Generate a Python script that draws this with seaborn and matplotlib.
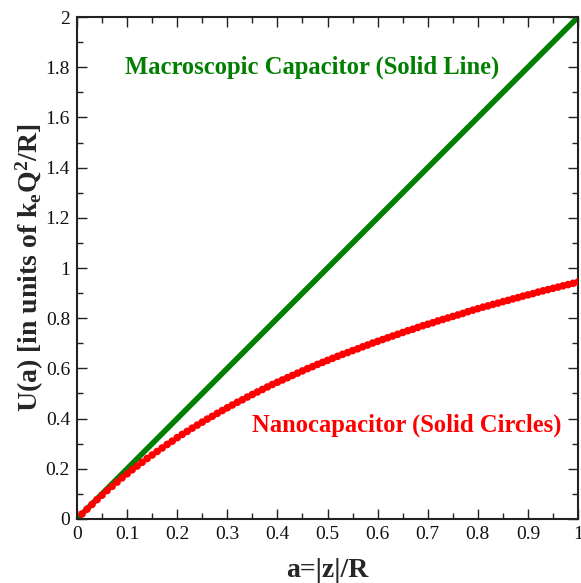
import matplotlib
matplotlib.use("Agg")
import matplotlib.pyplot as plt
import seaborn as sns
import pandas as pd

# Macroscopic parallel-plate result: straight line U = 2a
macro_a = [0.0, 1.0]
macro_u = [0.0, 2.0]

# Nanocapacitor energies, one point per step of a
nano_a = [round(0.01 * i, 2) for i in range(1, 101)]
nano_u = [
    0.020, 0.039, 0.058, 0.077, 0.095, 0.113, 0.130, 0.147, 0.164, 0.180,
    0.196, 0.211, 0.226, 0.241, 0.255, 0.269, 0.283, 0.297, 0.310, 0.324,
    0.337, 0.349, 0.362, 0.374, 0.386, 0.398, 0.409, 0.421, 0.432, 0.443,
    0.454, 0.465, 0.475, 0.486, 0.496, 0.506, 0.516, 0.526, 0.536, 0.545,
    0.554, 0.563, 0.572, 0.581, 0.590, 0.599, 0.607, 0.616, 0.624, 0.632,
    0.640, 0.648, 0.656, 0.663, 0.671, 0.678, 0.686, 0.693, 0.701, 0.708,
    0.715, 0.722, 0.729, 0.736, 0.743, 0.750, 0.756, 0.763, 0.770, 0.776,
    0.782, 0.789, 0.795, 0.801, 0.807, 0.813, 0.819, 0.826, 0.832, 0.838,
    0.844, 0.849, 0.855, 0.860, 0.866, 0.871, 0.877, 0.882, 0.888, 0.893,
    0.898, 0.904, 0.909, 0.914, 0.919, 0.924, 0.929, 0.934, 0.939, 0.944,
]

x_ticks = [0, 0.1, 0.2, 0.3, 0.4, 0.5, 0.6, 0.7, 0.8, 0.9, 1]
x_ticklabels = ["0", "0.1", "0.2", "0.3", "0.4", "0.5", "0.6", "0.7", "0.8", "0.9", "1"]
y_ticks = [0, 0.2, 0.4, 0.6, 0.8, 1.0, 1.2, 1.4, 1.6, 1.8, 2.0]
y_ticklabels = ["0", "0.2", "0.4", "0.6", "0.8", "1", "1.2", "1.4", "1.6", "1.8", "2"]

sns.set_theme(style="ticks")
plt.rcParams["font.family"] = ["Liberation Serif", "DejaVu Serif"]
plt.rcParams["mathtext.default"] = "regular"

GREEN = "#007f00"
RED = "#ff0000"

macro_df = pd.DataFrame({"a": macro_a, "U": macro_u})
nano_df = pd.DataFrame({"a": nano_a, "U": nano_u})

fig = plt.figure(figsize=(5.81, 5.83), dpi=100)
ax = fig.add_axes([0.1325, 0.1098, 0.8625, 0.861])

sns.lineplot(data=macro_df, x="a", y="U", ax=ax, color=GREEN, linewidth=4.0,
             solid_capstyle="butt", zorder=2)
sns.scatterplot(data=nano_df, x="a", y="U", ax=ax, color=RED, s=30,
                edgecolor="none", linewidth=0, zorder=3)

ax.set_xlim(0, 1)
ax.set_ylim(0, 2)
ax.set_xticks(x_ticks)
ax.set_xticklabels(x_ticklabels)
ax.set_yticks(y_ticks)
ax.set_yticklabels(y_ticklabels)
ax.set_xticks([0.05 + 0.1 * i for i in range(10)], minor=True)
ax.set_yticks([0.1 + 0.2 * i for i in range(10)], minor=True)

ax.tick_params(axis="both", which="both", direction="in", top=True, right=True,
               colors="#222222", labelcolor="#111111", width=1.0)
ax.tick_params(axis="both", which="major", length=7, labelsize=14, pad=5)
ax.tick_params(axis="both", which="minor", length=4)
for sp in ax.spines.values():
    sp.set_linewidth(1.5)
    sp.set_color("#222222")

ax.set_xlabel("a=|z|/R", fontsize=20, fontweight="bold", labelpad=11)
ax.set_ylabel("U(a) [in units of k$_e$Q$^2$/R]", fontsize=20, fontweight="bold",
              labelpad=0)

ax.text(0.096, 1.80, "Macroscopic Capacitor (Solid Line)", color=GREEN,
        fontsize=17.7, fontweight="bold", va="center", ha="left")
ax.text(0.349, 0.375, "Nanocapacitor (Solid Circles)", color=RED,
        fontsize=17.7, fontweight="bold", va="center", ha="left")

fig.savefig("out.png", dpi=100)
